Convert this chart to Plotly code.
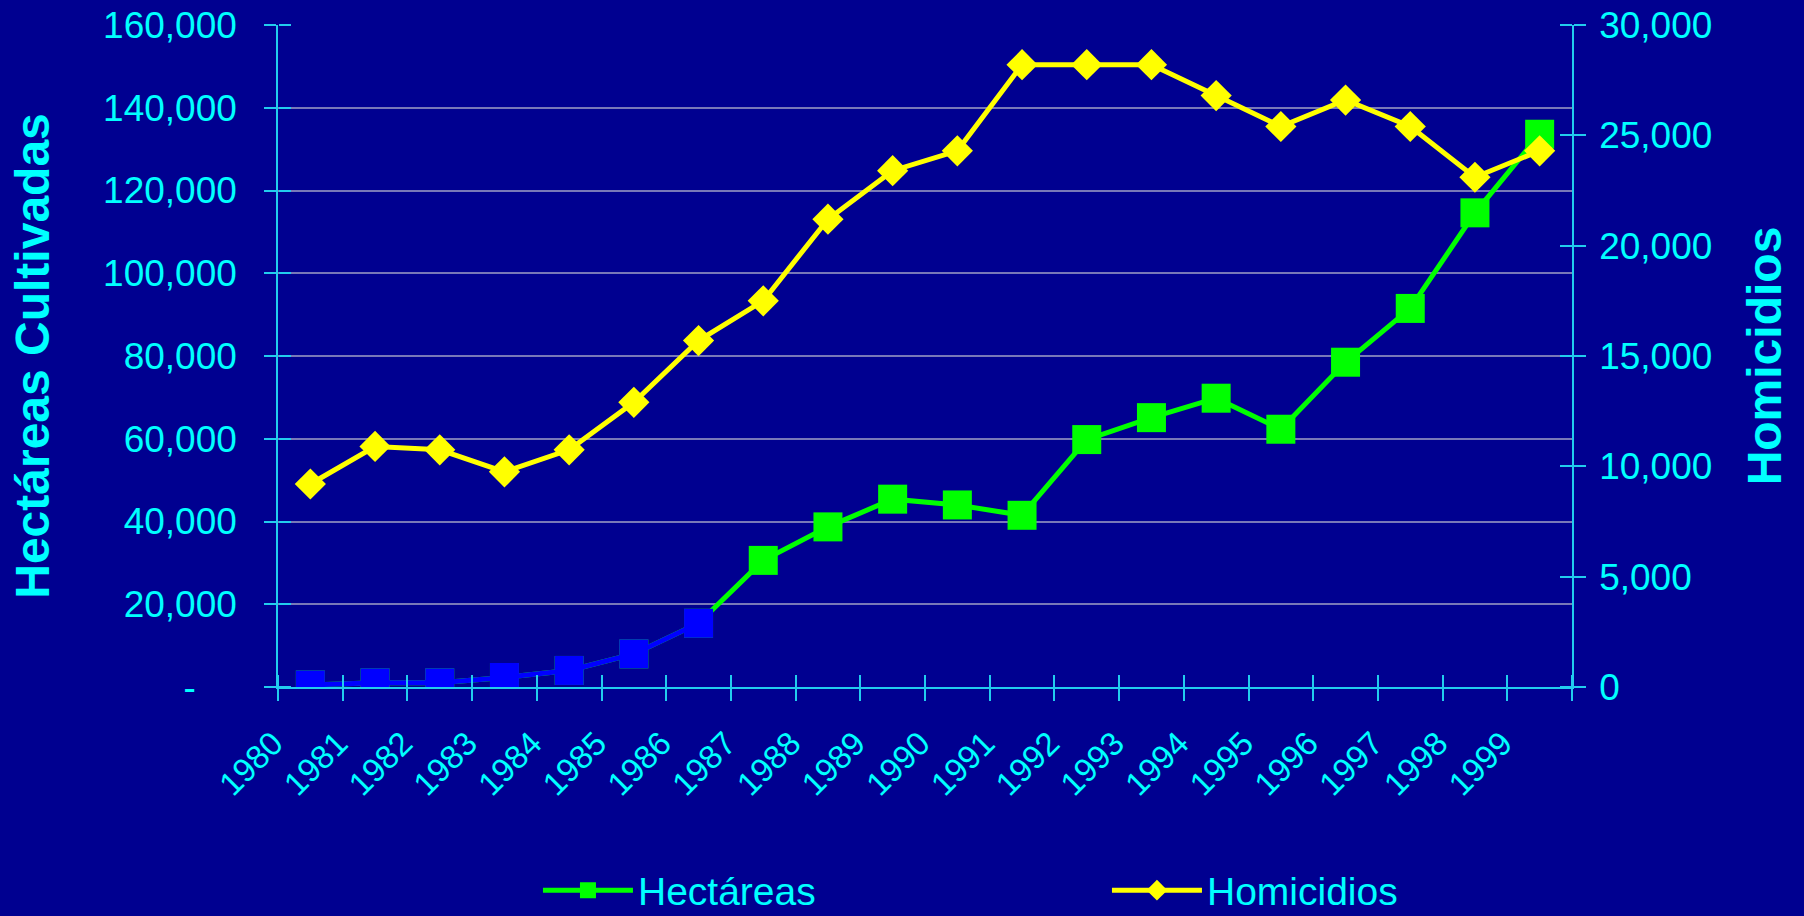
import plotly.graph_objects as go

years = [str(y) for y in range(1980, 2000)]
hectareas = [500, 1000, 1000, 2300, 4000, 8000, 15400, 30600, 38700, 45400,
             44000, 41500, 59800, 65100, 69800, 62300, 78500, 91500, 114600, 133600]
homicidios = [9200, 10900, 10750, 9750, 10750, 12900, 15700, 17500, 21200, 23400,
              24300, 28200, 28200, 28200, 26800, 25400, 26600, 25400, 23100, 24300]
n_blue = 7  # first years drawn in blue

left_ticks = [0, 20000, 40000, 60000, 80000, 100000, 120000, 140000, 160000]
left_labels = ["-\u00a0\u00a0\u00a0\u00a0", "20,000", "40,000", "60,000", "80,000",
               "100,000", "120,000", "140,000", "160,000"]
right_ticks = [0, 5000, 10000, 15000, 20000, 25000, 30000]
right_labels = ["0", "5,000", "10,000", "15,000", "20,000", "25,000", "30,000"]

BG = "#000090"
CYAN = "#00FFFF"
AXIS = "#22CCEE"
FONT = "Liberation Sans, Arial, sans-serif"

fig = go.Figure()
fig.add_trace(go.Scatter(
    x=years, y=hectareas, name="Hectáreas", mode="lines+markers",
    line=dict(color="#00FF00", width=5),
    marker=dict(symbol="square", size=29, color="#00FF00"),
    xaxis="x", yaxis="y"))
fig.add_trace(go.Scatter(
    x=years[:n_blue], y=hectareas[:n_blue], name="Hectáreas", mode="lines+markers",
    line=dict(color="#0000FF", width=5),
    marker=dict(symbol="square", size=29, color="#0000FF"),
    showlegend=False, xaxis="x", yaxis="y"))
fig.add_trace(go.Scatter(
    x=years, y=homicidios, name="Homicidios", mode="lines+markers",
    line=dict(color="#FFFF00", width=5),
    marker=dict(symbol="diamond", size=24, color="#FFFF00"),
    xaxis="x", yaxis="y2"))
# invisible helper traces so the overlay axes (inner half of crossing ticks) are drawn
fig.add_trace(go.Scatter(x=years, y=hectareas, mode="none", showlegend=False,
                         hoverinfo="skip", xaxis="x2", yaxis="y3"))
fig.add_trace(go.Scatter(x=years, y=homicidios, mode="none", showlegend=False,
                         hoverinfo="skip", xaxis="x2", yaxis="y4"))

tick_common = dict(tickcolor=AXIS, tickwidth=1.5, ticklen=12)

fig.update_layout(
    width=1804, height=916,
    paper_bgcolor=BG, plot_bgcolor=BG,
    margin=dict(l=278, r=232, t=25, b=229, autoexpand=False),
    font=dict(family=FONT, color=CYAN),
    xaxis=dict(
        type="category", range=[-0.5, 19.5], tickson="boundaries",
        showline=True, linecolor=AXIS, linewidth=1.5,
        ticks="outside", **tick_common, automargin=False,
        tickangle=-45, tickfont=dict(size=33, color=CYAN, family=FONT),
        ticklabelshift=-37, ticklabelstandoff=22,
        showgrid=False, zeroline=False),
    xaxis2=dict(
        type="category", range=[-0.5, 19.5], tickson="boundaries",
        overlaying="x", anchor="free", position=0, side="top",
        ticks="outside", **tick_common, showticklabels=False, automargin=False,
        showline=False, showgrid=False, zeroline=False),
    yaxis=dict(
        range=[0, 160000], tickvals=left_ticks, ticktext=left_labels,
        showline=True, linecolor=AXIS, linewidth=1.5,
        ticks="outside", **tick_common, automargin=False,
        ticklabelstandoff=20,
        tickfont=dict(size=37, color=CYAN, family=FONT),
        showgrid=True, gridcolor="#7878B8", gridwidth=1.5, zeroline=False,
        title=dict(text="<b>Hectáreas Cultivadas</b>", standoff=38,
                   font=dict(size=48, color=CYAN, family=FONT))),
    yaxis2=dict(
        range=[0, 30000], tickvals=right_ticks, ticktext=right_labels,
        overlaying="y", side="right", anchor="x",
        showline=True, linecolor=AXIS, linewidth=1.5,
        ticks="outside", **tick_common, automargin=False,
        ticklabelstandoff=6,
        tickfont=dict(size=37, color=CYAN, family=FONT),
        showgrid=False, zeroline=False,
        title=dict(text="<b>Homicidios</b>", standoff=36,
                   font=dict(size=48, color=CYAN, family=FONT))),
    yaxis3=dict(
        range=[0, 160000], tickvals=left_ticks, overlaying="y",
        anchor="free", position=0, side="right",
        ticks="outside", **tick_common, showticklabels=False, automargin=False,
        showline=False, showgrid=False, zeroline=False),
    yaxis4=dict(
        range=[0, 30000], tickvals=right_ticks, overlaying="y",
        anchor="free", position=1, side="left",
        ticks="outside", **tick_common, showticklabels=False, automargin=False,
        showline=False, showgrid=False, zeroline=False),
    legend=dict(
        orientation="h", x=0.2009, xanchor="left",
        yref="container", y=0.028, yanchor="middle",
        itemwidth=90, entrywidth=464, entrywidthmode="pixels",
        bgcolor="rgba(0,0,0,0)",
        font=dict(size=39, color=CYAN, family=FONT)),
    showlegend=True,
)

fig.write_html(
    "out.html",
    config={"displayModeBar": False},
    post_script="document.body.style.margin='0';document.body.style.background='#000090';document.documentElement.style.overflow='hidden';",
)
